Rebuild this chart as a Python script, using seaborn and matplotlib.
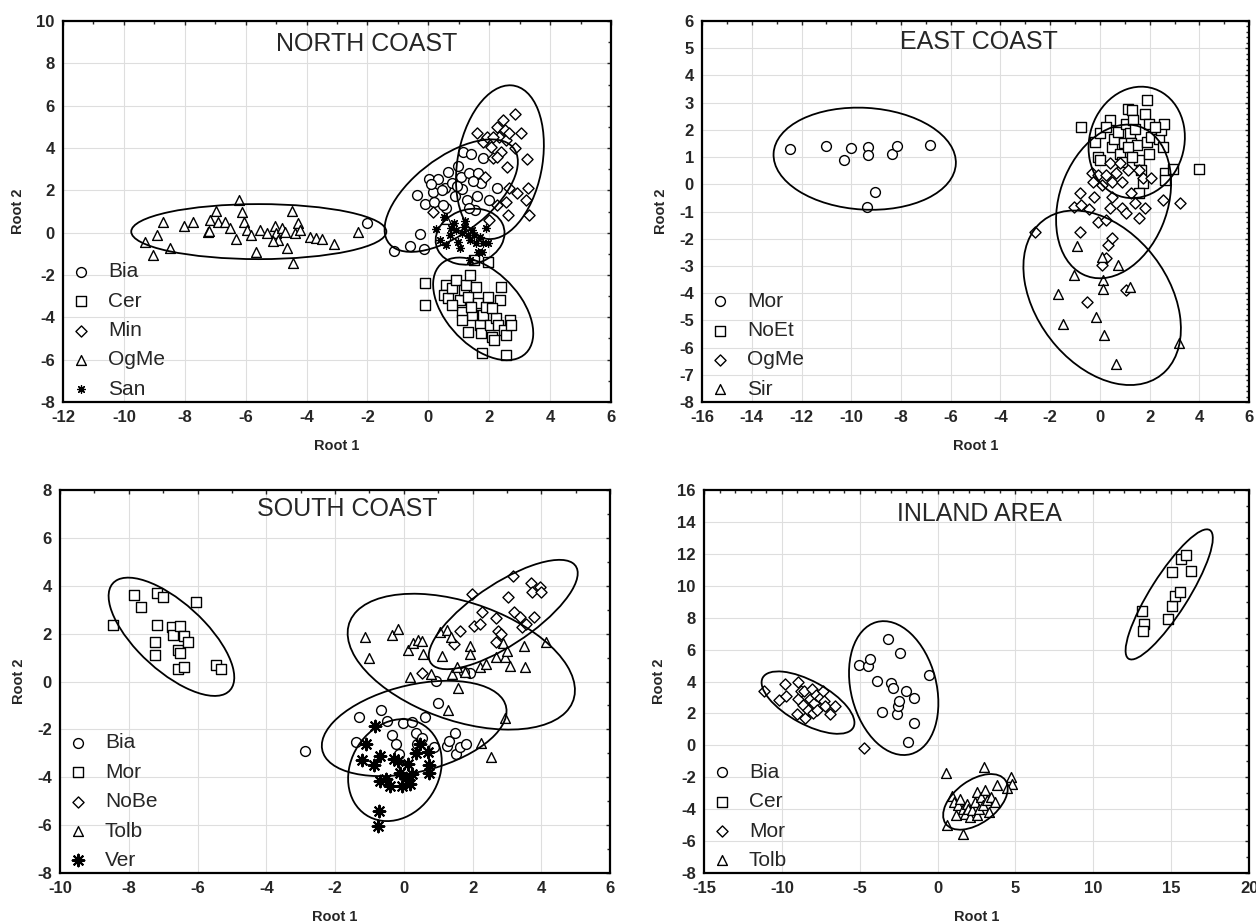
import pandas as pd
import matplotlib
matplotlib.use("Agg")
import matplotlib.pyplot as plt
from matplotlib.patches import Ellipse
from matplotlib.ticker import MultipleLocator
import seaborn as sns

sns.set_style("white")
plt.rcParams['font.family'] = ['Liberation Sans', 'DejaVu Sans']
plt.rcParams['axes.unicode_minus'] = False

# ---------------- NORTH COAST ----------------
nc_bia_x = [-2.01, -1.12, -0.59, -0.28, -0.13, -0.36, -0.10, 0.03, 0.14, 0.20, 0.33, 0.53,
            0.57, 0.66, 0.79, 0.86, 0.97, 1.06, 1.09, 1.13, 1.26, 1.32, 1.39, 1.52, 1.59,
            1.63, 1.72, 1.79, 1.98, 2.25, 0.47, 1.32, 0.45, 0.95, 0.10, 1.45]
nc_bia_y = [0.47, -0.85, -0.63, -0.06, -0.79, 1.78, 1.35, 2.53, 1.93, 1.46, 2.53, 2.09,
            1.15, 2.85, 2.33, 1.75, 3.16, 2.61, 2.06, 3.82, 1.54, 2.80, 3.71, 1.07, 1.75,
            2.80, 2.33, 3.51, 1.54, 2.09, 1.30, 1.15, 2.00, 2.20, 2.30, 2.45]
nc_cer_x = [-0.10, -0.10, 0.57, 0.50, 0.64, 0.77, 0.90, 1.03, 1.09, 1.16, 1.22, 1.29, 1.36,
            1.42, 1.49, 1.55, 1.62, 1.68, 1.72, 1.75, 1.81, 1.88, 1.95, 2.01, 2.08, 2.15,
            2.21, 2.28, 2.34, 2.37, 2.48, 2.54, 2.54, 2.67, 2.71, 1.09, 1.29, 0.77, 2.08,
            1.95, 1.40]
nc_cer_y = [-2.36, -3.44, -2.47, -2.94, -3.10, -2.63, -2.23, -3.18, -3.73, -2.71, -2.47,
            -3.02, -2.00, -3.89, -1.29, -2.55, -3.33, -4.36, -4.75, -5.69, -3.89, -3.49,
            -3.02, -4.36, -4.91, -5.06, -4.04, -4.36, -3.18, -2.55, -4.59, -4.83, -5.77,
            -4.12, -4.36, -4.12, -4.67, -3.41, -3.57, -1.40, -3.50]
nc_min_x = [1.59, 1.79, 1.92, 2.05, 2.12, 2.25, 2.31, 2.38, 2.45, 2.51, 2.54, 2.58, 2.65,
            2.84, 2.84, 3.04, 3.24, 3.28, 3.20, 3.31, 2.91, 2.62, 2.54, 2.25, 1.98, 2.65,
            1.85, 0.14, 2.12, 2.25]
nc_min_y = [4.69, 4.29, 4.53, 4.06, 3.51, 5.00, 4.53, 3.82, 5.31, 4.84, 4.37, 3.11, 4.69,
            5.63, 3.98, 4.69, 3.47, 2.09, 1.54, 0.83, 1.89, 0.83, 1.46, 1.30, 0.60, 2.09,
            2.64, 0.99, 4.53, 3.58]
nc_ogme_x = [-9.30, -8.90, -9.03, -8.73, -8.50, -8.02, -7.74, -7.25, -7.18, -6.99, -6.92,
             -6.68, -6.53, -6.33, -6.22, -6.13, -6.06, -5.97, -5.83, -5.67, -5.54, -5.03,
             -5.00, -4.94, -4.81, -4.72, -4.64, -4.48, -4.44, -4.39, -4.28, -4.22, -3.89,
             -3.69, -3.49, -3.10, -2.30, -5.30, -7.20, -5.10, 0.57]
nc_ogme_y = [-0.46, -0.11, -1.05, 0.49, -0.74, 0.33, 0.52, 0.05, 0.60, 1.04, 0.52, 0.49,
             0.20, -0.30, 1.54, 0.96, 0.52, 0.13, -0.11, -0.90, 0.13, 0.33, -0.03, -0.35,
             0.20, 0.02, -0.74, 1.04, -1.42, -0.03, 0.44, 0.13, -0.19, -0.27, -0.30, -0.55,
             0.02, -0.03, 0.10, -0.40, 0.64]
nc_san_x = [0.24, 0.37, 0.57, 0.70, 0.83, 0.90, 0.96, 1.03, 1.09, 1.16, 1.29, 1.36, 1.42,
            1.49, 1.55, 1.68, 1.75, 1.81, 1.88, 1.95, 1.62, 0.50, 1.36, 1.20, 0.75]
nc_san_y = [0.16, -0.35, -0.58, -0.11, 0.44, 0.13, -0.42, -0.74, -0.03, 0.28, -0.11, -0.35,
            0.13, -0.11, -0.50, -0.19, -0.93, -0.50, 0.20, -0.50, -0.93, 0.75, -1.29, 0.55,
            0.20]

# ---------------- EAST COAST ----------------
ec_mor_x = [-12.47, -11.03, -10.31, -10.03, -9.31, -9.31, -9.04, -9.35, -8.35, -8.16, -6.83]
ec_mor_y = [1.28, 1.40, 0.91, 1.32, 1.38, 1.07, -0.27, -0.82, 1.11, 1.42, 1.44]
ec_noet_x = [-0.77, -0.20, 0.00, -0.09, 0.00, 0.39, 0.47, 0.55, 0.71, 0.79, 0.87, 0.95,
             1.03, 1.11, 1.19, 1.27, 1.30, 1.35, 1.43, 1.51, 1.59, 1.67, 1.75, 1.83, 1.88,
             1.91, 1.99, 1.99, 2.07, 2.36, 2.47, 2.58, 2.55, 2.63, 2.63, 2.95, 3.99, 1.11,
             1.59, 1.30, 0.23, 2.23]
ec_noet_y = [2.09, 1.56, 1.87, 1.01, 0.89, 2.36, 1.38, 1.68, 1.93, 1.13, 0.83, 1.50, 2.23,
             2.78, 1.87, 1.50, 2.72, 2.36, 2.05, 1.44, 0.89, 0.52, 0.03, 2.60, 3.09, 1.56,
             1.13, 2.23, 1.75, 1.68, 1.99, 2.23, 1.38, 0.40, 0.16, 0.58, 0.58, 1.38, -0.33,
             1.01, 2.11, 2.11]
ec_ogme_x = [0.39, -0.33, -0.28, -0.09, 0.07, 0.23, 0.47, 0.63, 0.79, 0.87, 1.11, 1.27,
             1.43, 1.59, 1.75, 2.07, -0.81, -0.25, 0.47, -1.06, -0.77, -0.43, 0.39, 0.87,
             1.03, 1.59, 1.83, 2.55, 3.23, -0.09, 0.23, -0.81, -2.61, 0.31, 0.47, 0.23,
             0.07, -0.53, 1.03]
ec_ogme_y = [0.79, 0.40, 0.10, 0.34, -0.03, 0.34, 0.10, 0.40, 0.77, 0.10, 0.52, -0.33,
             -0.70, 0.52, 0.22, 0.22, -0.33, -0.45, -0.45, -0.82, -0.76, -0.92, -0.88,
             -0.88, -1.07, -1.25, -0.88, -0.58, -0.67, -1.37, -1.31, -1.74, -1.76, -2.23,
             -1.98, -2.72, -2.96, -4.34, -3.90]
ec_sir_x = [-0.93, 0.07, 0.71, -1.05, 0.11, 0.11, -1.70, 1.19, -1.50, -0.14, 0.15, 0.63, 3.19]
ec_sir_y = [-2.26, -2.66, -2.96, -3.35, -3.51, -3.85, -4.02, -3.78, -5.12, -4.88, -5.53,
            -6.59, -5.83]

# ---------------- SOUTH COAST ----------------
sc_bia_x = [-2.88, -1.30, -1.39, -0.66, -0.49, -0.34, -0.23, -0.13, -0.02, 0.24, 0.36, 0.39,
            0.53, 0.61, 0.88, 0.94, 0.99, 1.26, 1.31, 1.50, 1.52, 1.64, 1.81, 1.93, 1.75]
sc_bia_y = [-2.89, -1.47, -2.52, -1.19, -1.64, -2.24, -2.61, -3.03, -1.75, -1.68, -2.13,
            -2.61, -2.36, -1.50, -2.72, 0.01, -0.91, -2.68, -2.47, -2.17, -3.03, -2.75,
            -2.61, 0.35, 0.38]
sc_mor_x = [-8.46, -7.85, -7.64, -7.17, -7.01, -7.17, -7.23, -7.23, -6.74, -6.71, -6.51,
            -6.57, -6.57, -6.51, -6.39, -6.39, -6.28, -6.04, -5.46, -5.32]
sc_mor_y = [2.37, 3.63, 3.13, 3.68, 3.52, 2.36, 1.66, 1.11, 2.26, 1.96, 2.33, 1.31, 0.52,
            1.18, 1.89, 0.62, 1.64, 3.31, 0.70, 0.52]
sc_nobe_x = [0.53, 1.64, 1.97, 2.05, 2.22, 2.28, 2.68, 2.68, 2.74, 2.82, 3.03, 3.18, 3.21,
             3.38, 3.44, 3.56, 3.71, 3.73, 3.79, 3.96, 3.99, 1.46]
sc_nobe_y = [0.35, 2.12, 3.65, 2.33, 2.40, 2.89, 2.65, 1.64, 2.12, 1.98, 3.54, 4.42, 2.89,
             2.68, 2.29, 2.40, 4.10, 3.72, 2.71, 3.93, 3.72, 1.57]
sc_tolb_x = [-1.13, -1.02, -0.34, -0.17, 0.12, 0.18, 0.26, 0.41, 0.53, 0.56, 0.80, 1.05,
             1.11, 1.26, 1.38, 1.40, 1.55, 1.58, 1.29, 1.78, 1.93, 1.93, 2.22, 2.39, 2.25,
             2.54, 2.68, 2.89, 2.94, 3.00, 3.09, 2.94, 3.50, 3.52, 4.14]
sc_tolb_y = [1.84, 0.98, 1.96, 2.19, 1.31, 0.17, 1.59, 1.75, 1.70, 1.15, 0.31, 2.05, 1.08,
             2.15, 1.84, 0.31, 0.59, -0.29, -1.19, 0.38, 1.50, 1.15, 0.59, 0.73, -2.58,
             -3.17, 1.01, 1.59, 1.01, 1.26, 0.63, -1.53, 1.50, 0.59, 1.64]
sc_ver_x = [-0.83, -1.10, -1.22, -0.87, -0.69, -0.69, -0.51, -0.40, -0.28, -0.17, -0.11,
            -0.05, 0.07, 0.12, 0.18, 0.24, 0.36, 0.47, 0.71, 0.73, 0.73, -0.71, -0.75]
sc_ver_y = [-1.85, -2.61, -3.28, -3.48, -3.10, -4.14, -4.07, -4.35, -3.24, -3.31, -3.80,
            -4.35, -4.01, -3.45, -4.26, -3.87, -3.00, -2.61, -2.96, -3.48, -3.80, -5.40,
            -6.02]

# ---------------- INLAND AREA ----------------
ia_bia_x = [-5.05, -4.46, -4.33, -3.87, -3.56, -3.17, -3.02, -2.86, -2.60, -2.53, -2.45,
            -2.40, -2.01, -1.93, -1.49, -1.49, -0.54]
ia_bia_y = [5.01, 4.95, 5.41, 4.05, 2.08, 6.67, 3.90, 3.59, 1.97, 2.44, 2.81, 5.79, 3.42,
            0.23, 2.96, 1.39, 4.43]
ia_cer_x = [13.14, 13.27, 13.20, 14.79, 15.05, 15.26, 15.57, 15.05, 15.64, 15.95, 16.29]
ia_cer_y = [8.41, 7.61, 7.19, 7.95, 8.73, 9.35, 9.63, 10.86, 11.66, 11.93, 10.93]
ia_mor_x = [-11.16, -10.18, -9.79, -9.74, -8.97, -8.97, -9.02, -8.76, -8.63, -8.58, -8.51,
            -8.32, -8.20, -8.07, -8.02, -7.94, -7.81, -7.76, -7.55, -7.37, -7.29, -7.22,
            -6.91, -6.57, -4.72]
ia_mor_y = [3.42, 2.86, 3.84, 3.07, 3.95, 2.92, 1.97, 3.42, 2.54, 3.38, 1.74, 2.23, 2.92,
            3.53, 2.02, 2.65, 3.17, 2.23, 2.96, 3.38, 2.79, 2.44, 1.97, 2.44, -0.14]
ia_tolb_x = [0.57, 2.96, 4.69, 4.77, 4.43, 3.79, 0.62, 1.60, 0.95, 1.08, 1.34, 1.47, 1.60,
             1.73, 1.86, 1.98, 2.11, 2.24, 2.37, 2.50, 2.50, 2.63, 2.76, 2.89, 3.02, 3.14,
             3.27, 3.40, 3.66, 1.21]
ia_tolb_y = [-1.76, -1.34, -1.97, -2.39, -2.66, -2.49, -5.01, -5.53, -3.18, -3.54, -3.75,
             -3.37, -3.96, -4.27, -3.65, -3.96, -4.48, -4.06, -3.54, -2.91, -4.38, -3.96,
             -3.23, -3.75, -2.81, -3.44, -4.17, -3.23, -3.54, -4.38]

# ellipses: centre x, centre y, semi-axis a, semi-axis b, angle (deg)
nc_ell_cx = [0.75, 1.80, 2.35, -5.57, 1.37]
nc_ell_cy = [1.75, -3.60, 3.33, 0.05, -0.19]
nc_ell_a = [3.10, 2.60, 3.65, 4.19, 1.35]
nc_ell_b = [1.50, 1.35, 1.40, 1.30, 1.10]
nc_ell_ang = [54, -65, 84, 0, 70]

ec_ell_cx = [-9.46, 1.48, 0.55, 0.09]
ec_ell_cy = [0.94, 1.54, -0.63, -4.17]
ec_ell_a = [3.67, 2.10, 2.95, 3.71]
ec_ell_b = [1.87, 1.88, 2.15, 2.56]
ec_ell_ang = [-3, 60, 65, -46]

sc_ell_cx = [0.30, -6.76, 2.89, 1.67, -0.26]
sc_ell_cy = [-1.96, 1.87, 2.80, 0.83, -3.70]
sc_ell_a = [2.85, 2.85, 2.95, 3.70, 2.15]
sc_ell_b = [1.75, 1.15, 1.10, 2.30, 1.33]
sc_ell_ang = [25, -57, 47, -35, 80]

ia_ell_cx = [-2.82, 14.87, -8.32, 2.43]
ia_ell_cy = [3.59, 9.46, 2.68, -3.54]
ia_ell_a = [4.28, 4.80, 3.30, 2.35]
ia_ell_b = [2.74, 1.20, 1.35, 1.35]
ia_ell_ang = [-75, 57, -28, 35]

ASTER = (8, 2, 0)
STYLE = {'o': 50, 's': 50, 'D': 32, '^': 50}


def draw_panel(ax, groups, ell, title, tpos, xlim, ylim, xmaj, xmin, ymaj, ymin):
    for name, xs, ys, mk in groups:
        df = pd.DataFrame({'Root 1': xs, 'Root 2': ys})
        if mk == 'ast_small':
            sns.scatterplot(data=df, x='Root 1', y='Root 2', marker=ASTER, s=32,
                            color='black', edgecolor='black', linewidth=0.9,
                            label=name, ax=ax, zorder=3)
        elif mk == 'ast_big':
            sns.scatterplot(data=df, x='Root 1', y='Root 2', marker=ASTER, s=70,
                            color='black', edgecolor='black', linewidth=1.5,
                            label=name, ax=ax, zorder=3)
        else:
            sns.scatterplot(data=df, x='Root 1', y='Root 2', marker=mk, s=STYLE[mk],
                            color='white', edgecolor='black', linewidth=1.0,
                            label=name, ax=ax, zorder=3)
    for cx, cy, a, b, ang in zip(*ell):
        ax.add_patch(Ellipse((cx, cy), 2 * a, 2 * b, angle=ang, fill=False,
                             ec='black', lw=1.3, zorder=4))
    ax.set_xlim(xlim)
    ax.set_ylim(ylim)
    ax.xaxis.set_major_locator(MultipleLocator(xmaj))
    ax.xaxis.set_minor_locator(MultipleLocator(xmin))
    ax.yaxis.set_major_locator(MultipleLocator(ymaj))
    ax.yaxis.set_minor_locator(MultipleLocator(ymin))
    ax.grid(True, which='major', color='#dedede', lw=0.8, zorder=0)
    ax.set_axisbelow(True)
    ax.tick_params(which='both', direction='in', top=True, right=True,
                   labelsize=12)
    ax.tick_params(which='major', length=3, width=1, pad=6)
    ax.tick_params(which='minor', length=2, width=1)
    for t in ax.get_xticklabels() + ax.get_yticklabels():
        t.set_fontweight('bold')
    for sp in ax.spines.values():
        sp.set_linewidth(1.6)
        sp.set_color('black')
    ax.set_xlabel('Root 1', fontsize=10.5, fontweight='bold', labelpad=10)
    ax.set_ylabel('Root 2', fontsize=10.5, fontweight='bold', labelpad=8)
    ax.text(tpos[0], tpos[1], title, transform=ax.transAxes, ha='center',
            va='center', fontsize=18)
    ax.legend(loc='lower left', frameon=False, fontsize=15, borderaxespad=0,
              borderpad=0.15, handlelength=1.4, handletextpad=0.6,
              labelspacing=0.5)


fig = plt.figure(figsize=(12.56, 9.22), dpi=100)
ax1 = fig.add_axes([0.0502, 0.564, 0.4363, 0.4132])
ax2 = fig.add_axes([0.559, 0.564, 0.4355, 0.4132])
ax3 = fig.add_axes([0.0478, 0.0531, 0.438, 0.4154])
ax4 = fig.add_axes([0.5605, 0.0531, 0.434, 0.4154])

draw_panel(ax1, [('Bia', nc_bia_x, nc_bia_y, 'o'), ('Cer', nc_cer_x, nc_cer_y, 's'),
                 ('Min', nc_min_x, nc_min_y, 'D'), ('OgMe', nc_ogme_x, nc_ogme_y, '^'),
                 ('San', nc_san_x, nc_san_y, 'ast_small')],
           (nc_ell_cx, nc_ell_cy, nc_ell_a, nc_ell_b, nc_ell_ang),
           'NORTH COAST', (0.555, 0.94), (-12, 6), (-8, 10), 2, 1, 2, 1)

draw_panel(ax2, [('Mor', ec_mor_x, ec_mor_y, 'o'), ('NoEt', ec_noet_x, ec_noet_y, 's'),
                 ('OgMe', ec_ogme_x, ec_ogme_y, 'D'), ('Sir', ec_sir_x, ec_sir_y, '^')],
           (ec_ell_cx, ec_ell_cy, ec_ell_a, ec_ell_b, ec_ell_ang),
           'EAST COAST', (0.506, 0.945), (-16, 6), (-8, 6), 2, 1, 1, 0.2)

draw_panel(ax3, [('Bia', sc_bia_x, sc_bia_y, 'o'), ('Mor', sc_mor_x, sc_mor_y, 's'),
                 ('NoBe', sc_nobe_x, sc_nobe_y, 'D'), ('Tolb', sc_tolb_x, sc_tolb_y, '^'),
                 ('Ver', sc_ver_x, sc_ver_y, 'ast_big')],
           (sc_ell_cx, sc_ell_cy, sc_ell_a, sc_ell_b, sc_ell_ang),
           'SOUTH COAST', (0.522, 0.95), (-10, 6), (-8, 8), 2, 1, 2, 1)

draw_panel(ax4, [('Bia', ia_bia_x, ia_bia_y, 'o'), ('Cer', ia_cer_x, ia_cer_y, 's'),
                 ('Mor', ia_mor_x, ia_mor_y, 'D'), ('Tolb', ia_tolb_x, ia_tolb_y, '^')],
           (ia_ell_cx, ia_ell_cy, ia_ell_a, ia_ell_b, ia_ell_ang),
           'INLAND AREA', (0.505, 0.937), (-15, 20), (-8, 16), 5, 1, 2, 1)

fig.savefig('out.png', dpi=100)
